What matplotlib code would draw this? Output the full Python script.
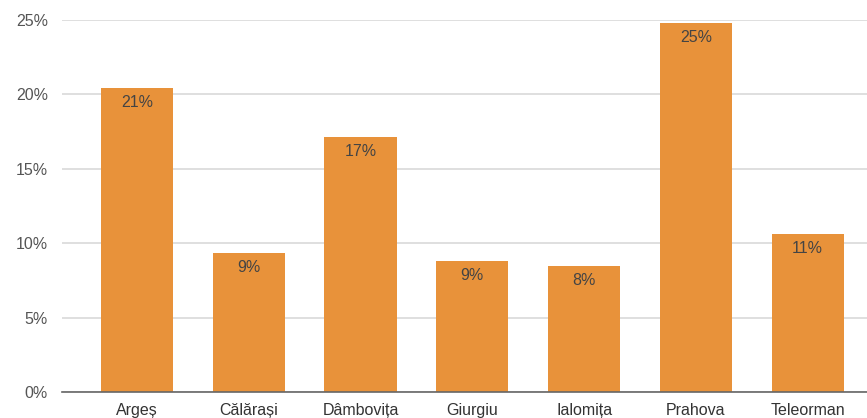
import matplotlib
matplotlib.use("Agg")
import matplotlib.pyplot as plt
from matplotlib.ticker import FuncFormatter

categories = ["Argeș", "Călărași", "Dâmbovița", "Giurgiu", "Ialomița", "Prahova", "Teleorman"]
values = [20.4, 9.35, 17.15, 8.8, 8.45, 24.8, 10.6]
labels = ["21%", "9%", "17%", "9%", "8%", "25%", "11%"]
yticks = [0, 5, 10, 15, 20, 25]

plt.rcParams['font.family'] = ['Liberation Sans', 'DejaVu Sans']

fig = plt.figure(figsize=(8.67, 4.18), dpi=100)
ax = fig.add_axes([62/867, 26/418, 1 - 62/867, (392-20)/418])

x = list(range(len(categories)))
bars = ax.bar(x, values, width=0.645, color="#E8923A", zorder=3)
for xi, v, lab in zip(x, values, labels):
    ax.annotate(lab, (xi, v), xytext=(0, -5), textcoords="offset points",
                ha="center", va="top", fontsize=11.5, color="#444444", zorder=4)

ax.set_xlim(-0.67, 6.53)
ax.set_ylim(0, 25)
ax.set_yticks(yticks)
ax.yaxis.set_major_formatter(FuncFormatter(lambda v, p: f"{v:.0f}%"))
ax.set_xticks(x)
ax.set_xticklabels(categories)
ax.grid(axis="y", color="#d9d9d9", linewidth=1.2, zorder=0)
for s in ["top", "right", "left"]:
    ax.spines[s].set_visible(False)
ax.spines["bottom"].set_color("#666666")
ax.spines["bottom"].set_linewidth(1.2)
ax.spines["bottom"].set_zorder(5)
ax.tick_params(axis="y", length=0, pad=10, labelsize=11.5, labelcolor="#555555")
ax.tick_params(axis="x", length=0, pad=8, labelsize=11.5, labelcolor="#333333")

fig.savefig("out.png", dpi=100)
